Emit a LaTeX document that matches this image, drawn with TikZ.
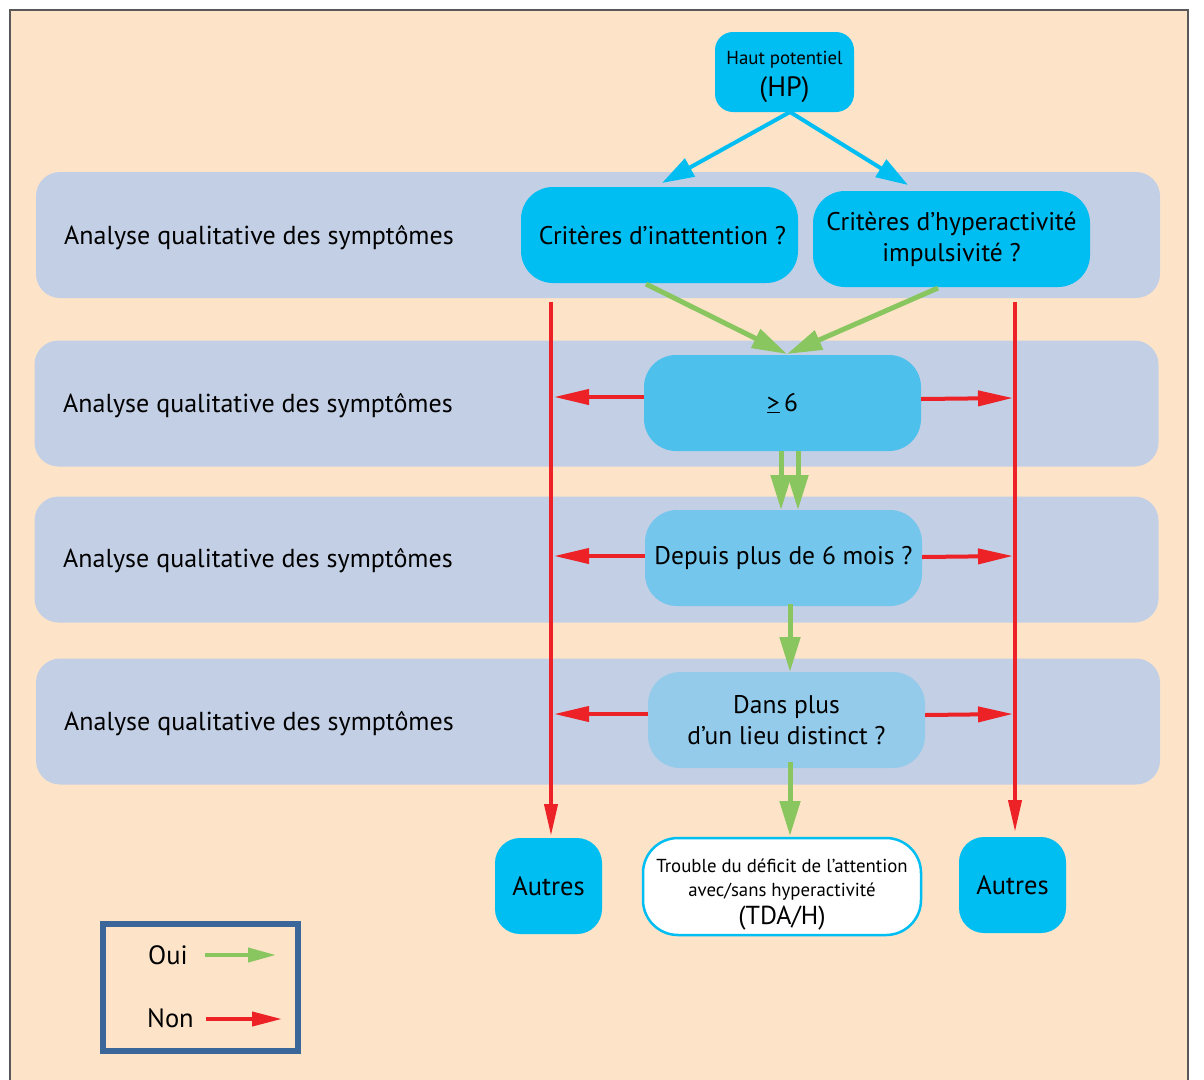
\documentclass[tikz,border=0pt]{standalone}
\usepackage{fontspec}
\setmainfont{PT Sans}
\usetikzlibrary{arrows.meta}
\definecolor{peach}{HTML}{FDE4C9}
\definecolor{bandc}{HTML}{C3CFE5}
\definecolor{cyanc}{HTML}{00BDF2}
\definecolor{cyanb}{HTML}{4DC1EC}
\definecolor{cyand}{HTML}{74C6EC}
\definecolor{cyane}{HTML}{95CBEA}
\definecolor{greenc}{HTML}{8AC65F}
\definecolor{redc}{HTML}{EC2227}
\definecolor{legc}{HTML}{3B6699}
\tikzset{
  band/.style={fill=bandc, rounded corners=24pt, minimum width=1124pt, minimum height=126pt, inner sep=0pt},
  bandtxt/.style={anchor=west, font=\fontsize{26}{30}\selectfont, inner sep=0pt},
  qbox/.style={rounded corners=32pt, minimum width=277pt, minimum height=96pt, inner sep=0pt, align=center, font=\fontsize{25.5}{31}\selectfont},
  endbox/.style={fill=cyanc, rounded corners=25pt, minimum width=107pt, minimum height=96pt, inner sep=0pt, font=\fontsize{26.5}{30}\selectfont},
  cyarr/.style={draw=cyanc, line width=4pt, -{Triangle[length=32pt,width=20pt]}},
  grarr/.style={draw=greenc, line width=5pt, -{Triangle[length=35pt,width=20pt]}},
  rdarr/.style={draw=redc, line width=4pt, -{Triangle[length=35pt,width=15pt]}},
  rdline/.style={draw=redc, line width=4pt, -{Triangle[length=32pt,width=13pt]}},
}
\begin{document}
\begin{tikzpicture}[x=1pt,y=-1pt]
\useasboundingbox (0,0) rectangle (1204,1079);
\fill[white] (0,0) rectangle (1204,1079);
\path[fill=peach, draw=black!65, line width=1.5pt] (10,1090) -- (10,10) -- (1188,10) -- (1188,1090);

% bands
\node[band] (b1) at (598,235) {};
\node[band] (b2) at (596.5,403.5) {};
\node[band] (b3) at (596.5,559.5) {};
\node[band] (b4) at (598,721.5) {};
\node[bandtxt] (t1) at (64,238) {Analyse qualitative des symptômes};
\node[bandtxt] (t2) at (63,406) {Analyse qualitative des symptômes};
\node[bandtxt] (t3) at (63,561) {Analyse qualitative des symptômes};
\node[bandtxt] (t4) at (64,724) {Analyse qualitative des symptômes};

% nodes
\node[fill=cyanc, rounded corners=18pt, minimum width=139pt, minimum height=80pt, inner sep=0pt, align=center, font=\fontsize{18.8}{32}\selectfont] (hp) at (784.5,72)
  {\rule{0pt}{23pt}Haut potentiel\\{\fontsize{28}{32}\selectfont (HP)}};
\node[qbox, fill=cyanc] (c1) at (659.5,235) {\hspace{6pt}Critères d’inattention ?};
\node[qbox, fill=cyanc] (c2) at (951.5,239) {Critères d’hyperactivité\\impulsivité ?};
\node[qbox, fill=cyanb] (n6) at (782.5,403) {\underline{>}\,6};
\node[qbox, fill=cyand] (nm) at (783.5,558) {Depuis plus de 6 mois ?};
\node[qbox, fill=cyane] (nl) at (786.5,720) {Dans plus\\d’un lieu distinct ?};
\node[endbox] (aL) at (548.5,886) {Autres};
\node[endbox] (aR) at (1012.5,885) {Autres};
\node[fill=white, draw=cyanc, line width=2.5pt, rounded corners=35pt, minimum width=278pt, minimum height=97pt, inner sep=0pt, align=center, font=\fontsize{18.8}{24}\selectfont] (tda) at (782,886.5)
  {\rule{0pt}{29pt}Trouble du déficit de l’attention\\avec/sans hyperactivité\\[4pt]{\fontsize{26}{28}\selectfont (TDA/H)}};

% cyan arrows
\coordinate (hpo) at (790,112);
\coordinate (c1i) at (662,183);
\coordinate (c2i) at (908,185);
\draw[cyarr] (hpo) -- (c1i);
\draw[cyarr] (hpo) -- (c2i);

% green arrows
\coordinate (c1o) at (646,284);
\coordinate (c2o) at (938,288);
\coordinate (n6i) at (787,354);
\draw[grarr] (c1o) -- (n6i);
\draw[grarr] (c2o) -- (n6i);
\draw[grarr] (n6.south -| 781,0) -- (781,510);
\draw[grarr] (n6.south -| 798,0) -- (798,510);
\draw[grarr] (790,604) coordinate (nmo) -- (790,672) coordinate (nli);
\draw[grarr] (790,762) coordinate (nlo) -- (790,836) coordinate (tdai);

% red verticals
\coordinate (rLt) at (551,302);
\coordinate (rLb) at (551,836);
\coordinate (rRt) at (1015,302);
\coordinate (rRb) at (1015,832);
\draw[rdline] (rLt) -- (rLb);
\draw[rdline] (rRt) -- (rRb);

% red horizontals
\draw[rdarr] (n6.west |- 0,397) -- (554,397);
\draw[rdarr] (n6.east |- 0,399) -- (1013,398);
\draw[rdarr] (nm.west |- 0,556) -- (554,556);
\draw[rdarr] (nm.east |- 0,557) -- (1013,556);
\draw[rdarr] (nl.west |- 0,714) -- (554,714);
\draw[rdarr] (nl.east |- 0,715) -- (1013,714);

% legend
\node[draw=legc, line width=6pt, minimum width=195pt, minimum height=127pt, inner sep=0pt] (leg) at (200.5,987.5) {};
\node[font=\fontsize{26.5}{30}\selectfont, anchor=west, inner sep=0pt] (oui) at (148,955) {Oui};
\node[font=\fontsize{26.5}{30}\selectfont, anchor=west, inner sep=0pt] (non) at (147,1018) {Non};
\draw[draw=greenc, line width=4pt, -{Triangle[length=28pt,width=14pt]}] (205,955) coordinate (ga) -- (276,955) coordinate (gb);
\draw[draw=redc, line width=4pt, -{Triangle[length=30pt,width=14pt]}] (206,1019) coordinate (ra) -- (282,1019) coordinate (rb);
\end{tikzpicture}
\end{document}
